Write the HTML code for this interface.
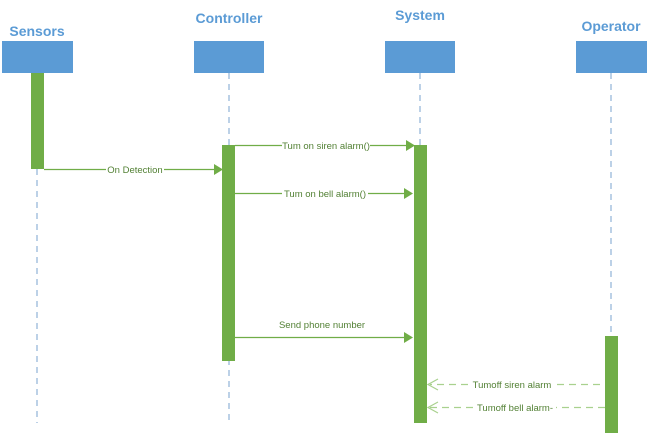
<!DOCTYPE html>
<html><head><meta charset="utf-8"><style>
html,body{margin:0;padding:0;background:#fff;}
svg{display:block;}
text{font-family:"Liberation Sans",sans-serif;}
</style></head><body>
<svg width="651" height="434" viewBox="0 0 651 434" xmlns="http://www.w3.org/2000/svg">
<g fill="#5b9bd5" font-weight="bold" font-size="14" text-anchor="middle">
<text x="37" y="36">Sensors</text>
<text x="229" y="23">Controller</text>
<text x="420" y="20">System</text>
<text x="611" y="31">Operator</text>
</g>
<g fill="#5b9bd5">
<rect x="2" y="41" width="71" height="32"/>
<rect x="194" y="41" width="70" height="32"/>
<rect x="385" y="41" width="70" height="32"/>
<rect x="576" y="41" width="71" height="32"/>
</g>
<g stroke="#7aa3cf" stroke-width="1" stroke-dasharray="6,5">
<line x1="37" y1="169" x2="37" y2="423"/>
<line x1="229" y1="73" x2="229" y2="423"/>
<line x1="420" y1="73" x2="420" y2="423"/>
<line x1="611" y1="73" x2="611" y2="336"/>
</g>
<g fill="#70ad47">
<rect x="31" y="73" width="13" height="96"/>
<rect x="222" y="145" width="13" height="216"/>
<rect x="414" y="145" width="13" height="278"/>
<rect x="605" y="336" width="13" height="97"/>
</g>
<g stroke="#70ad47" stroke-width="1.2">
<line x1="44" y1="169.5" x2="216" y2="169.5"/>
<line x1="235" y1="145.5" x2="408" y2="145.5"/>
<line x1="235" y1="193.5" x2="405" y2="193.5"/>
<line x1="235" y1="337.5" x2="405" y2="337.5"/>
</g>
<g fill="#70ad47">
<polygon points="214,164 223,169.5 214,175"/>
<polygon points="406,140 415,145.5 406,151"/>
<polygon points="404,188 413,193.5 404,199"/>
<polygon points="404,332 413,337.5 404,343"/>
</g>
<g stroke="#a9d18e" stroke-width="1.2" stroke-dasharray="7,5" fill="none">
<line x1="600" y1="384.5" x2="430" y2="384.5"/>
<line x1="605" y1="407.5" x2="430" y2="407.5"/>
</g>
<g stroke="#a9d18e" stroke-width="1.2" fill="none">
<polyline points="438,379 428,384.5 438,390"/>
<polyline points="438,402 428,407.5 438,413"/>
</g>
<g font-size="9.5" fill="#538135" text-anchor="middle">
<rect x="106" y="163" width="58" height="12" fill="#fff"/>
<text x="135" y="173">On Detection</text>
<rect x="282" y="139" width="88" height="12" fill="#fff"/>
<text x="326" y="149">Tum on siren alarm()</text>
<rect x="282" y="187" width="86" height="12" fill="#fff"/>
<text x="325" y="197">Tum on bell alarm()</text>
<text x="322" y="328">Send phone number</text>
<rect x="470" y="378" width="85" height="12" fill="#fff"/>
<text x="512" y="388">Tumoff siren alarm</text>
<rect x="475" y="401" width="81" height="12" fill="#fff"/>
<text x="515" y="411">Tumoff bell alarm-</text>
</g>
</svg>
</body></html>
